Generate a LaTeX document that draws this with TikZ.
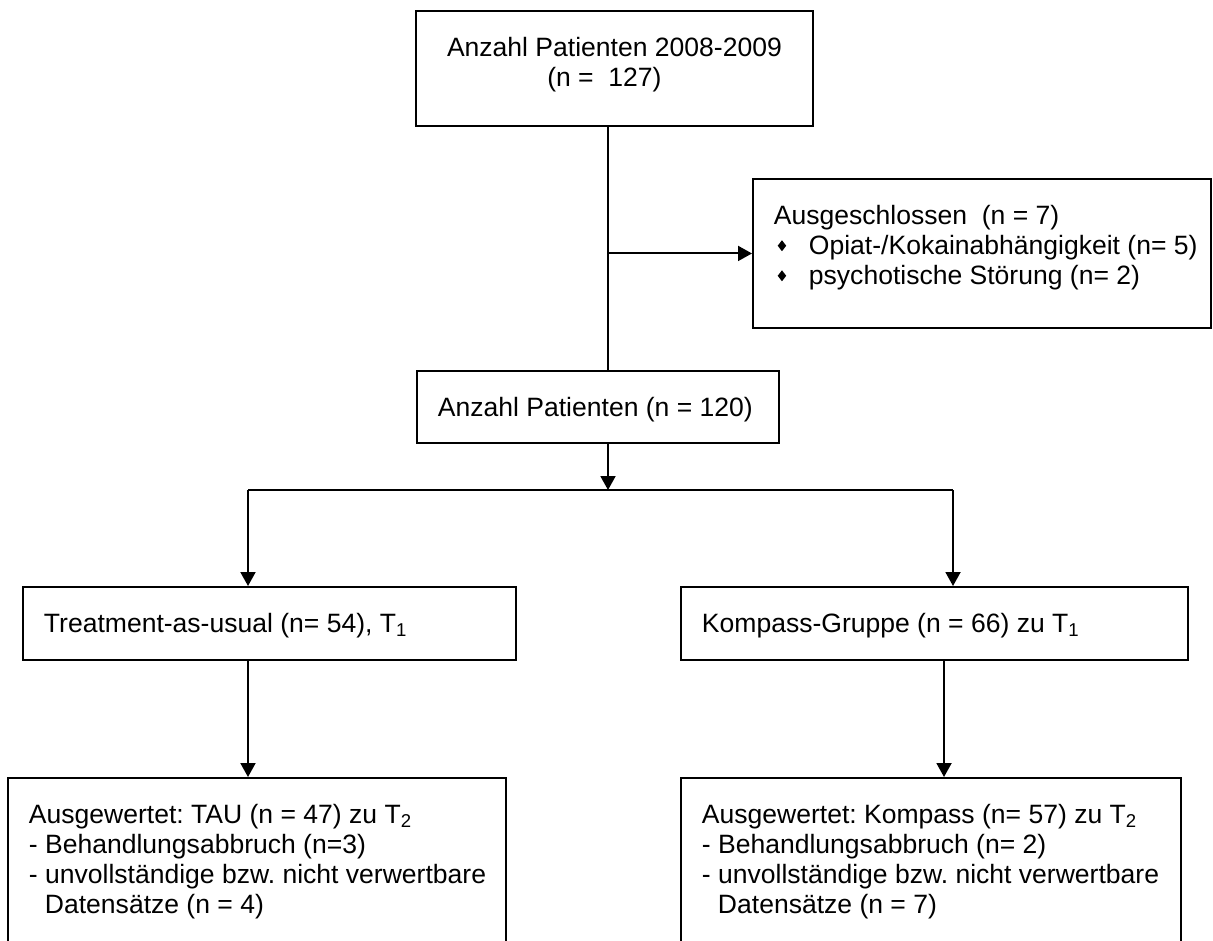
\documentclass[tikz,border=0pt]{standalone}
\usepackage{fontspec}
\setmainfont{Liberation Sans}
\usepackage{tikz}
\usetikzlibrary{arrows.meta}
\usetikzlibrary{calc}
\usetikzlibrary{positioning}

\newcommand{\boxtext}[3]{\parbox[c][#1][t]{#2}{\vspace*{0.53cm}\frenchspacing#3}}
\newcommand{\dia}{\makebox[0.7cm][l]{\hspace{0.075cm}\tikz[x=1cm,y=1cm,baseline=-0.18cm]\fill (0,0.11) -- (0.085,0) -- (0,-0.11) -- (-0.085,0) -- cycle;}}

\tikzset{
  box/.style={draw, line width=1.1pt, anchor=north west, inner xsep=0.42cm, inner ysep=0pt,
    font=\fontsize{15.1}{17.1}\selectfont},
  link/.style={line width=1.1pt},
  flow/.style={line width=1.1pt, -{Triangle[width=0.3cm,length=0.28cm]}}
}

\begin{document}
\begin{tikzpicture}[x=0.02cm, y=-0.02cm]
  \useasboundingbox (0,0) rectangle (1213,940);

  % boxes
  \node[box] (total) at (415,10)
    {\boxtext{2.30cm}{7.10cm}{\centering Anzahl Patienten 2008-2009\hspace*{0.38cm}\\(n =\ \ 127)\hspace*{0.4cm}}};

  \node[box] (excl) at (752,178)
    {\boxtext{2.98cm}{8.32cm}{\raggedright Ausgeschlossen\ \ (n = 7)\\
      \mbox{\dia Opiat-/Kokainabhängigkeit (n= 5)}\\
      \mbox{\dia psychotische Störung (n= 2)}}};

  \node[box] (pat) at (416,370)
    {\boxtext{1.44cm}{6.40cm}{Anzahl Patienten (n = 120)}};

  \node[box] (tau) at (22,586)
    {\boxtext{1.46cm}{9.02cm}{Treatment-as-usual (n= 54), T\textsubscript{1}}};

  \node[box] (komp) at (680,586)
    {\boxtext{1.46cm}{9.30cm}{Kompass-Gruppe (n = 66) zu T\textsubscript{1}}};

  \node[box] (evaltau) at (7,777)
    {\boxtext{4.00cm}{9.12cm}{\raggedright Ausgewertet: TAU (n = 47) zu T\textsubscript{2}\\
      - Behandlungsabbruch (n=3)\\
      \mbox{- unvollständige bzw. nicht verwertbare}\\
      \hspace*{0.32cm}Datensätze (n = 4)}};

  \node[box] (evalkomp) at (680,777)
    {\boxtext{4.00cm}{9.16cm}{\raggedright Ausgewertet: Kompass (n= 57) zu T\textsubscript{2}\\
      - Behandlungsabbruch (n= 2)\\
      \mbox{- unvollständige bzw. nicht verwertbare}\\
      \hspace*{0.32cm}Datensätze (n = 7)}};

  % connectors
  \coordinate (spine) at (608,0);
  \coordinate (splitL) at (248,490);
  \coordinate (splitM) at (608,490);
  \coordinate (splitR) at (953,490);
  \coordinate (dropR) at (944,0);

  \draw[link] (total.south -| spine) -- (pat.north -| spine);
  \draw[flow] (spine |- excl.west) -- (excl.west);
  \draw[flow] (pat.south -| spine) -- (splitM);
  \draw[link] (splitL) -- (splitR);
  \draw[flow] (splitL) -- (splitL |- tau.north);
  \draw[flow] (splitR) -- (splitR |- komp.north);
  \draw[flow] (tau.south -| splitL) -- (evaltau.north -| splitL);
  \draw[flow] (komp.south -| dropR) -- (evalkomp.north -| dropR);

\end{tikzpicture}
\end{document}
